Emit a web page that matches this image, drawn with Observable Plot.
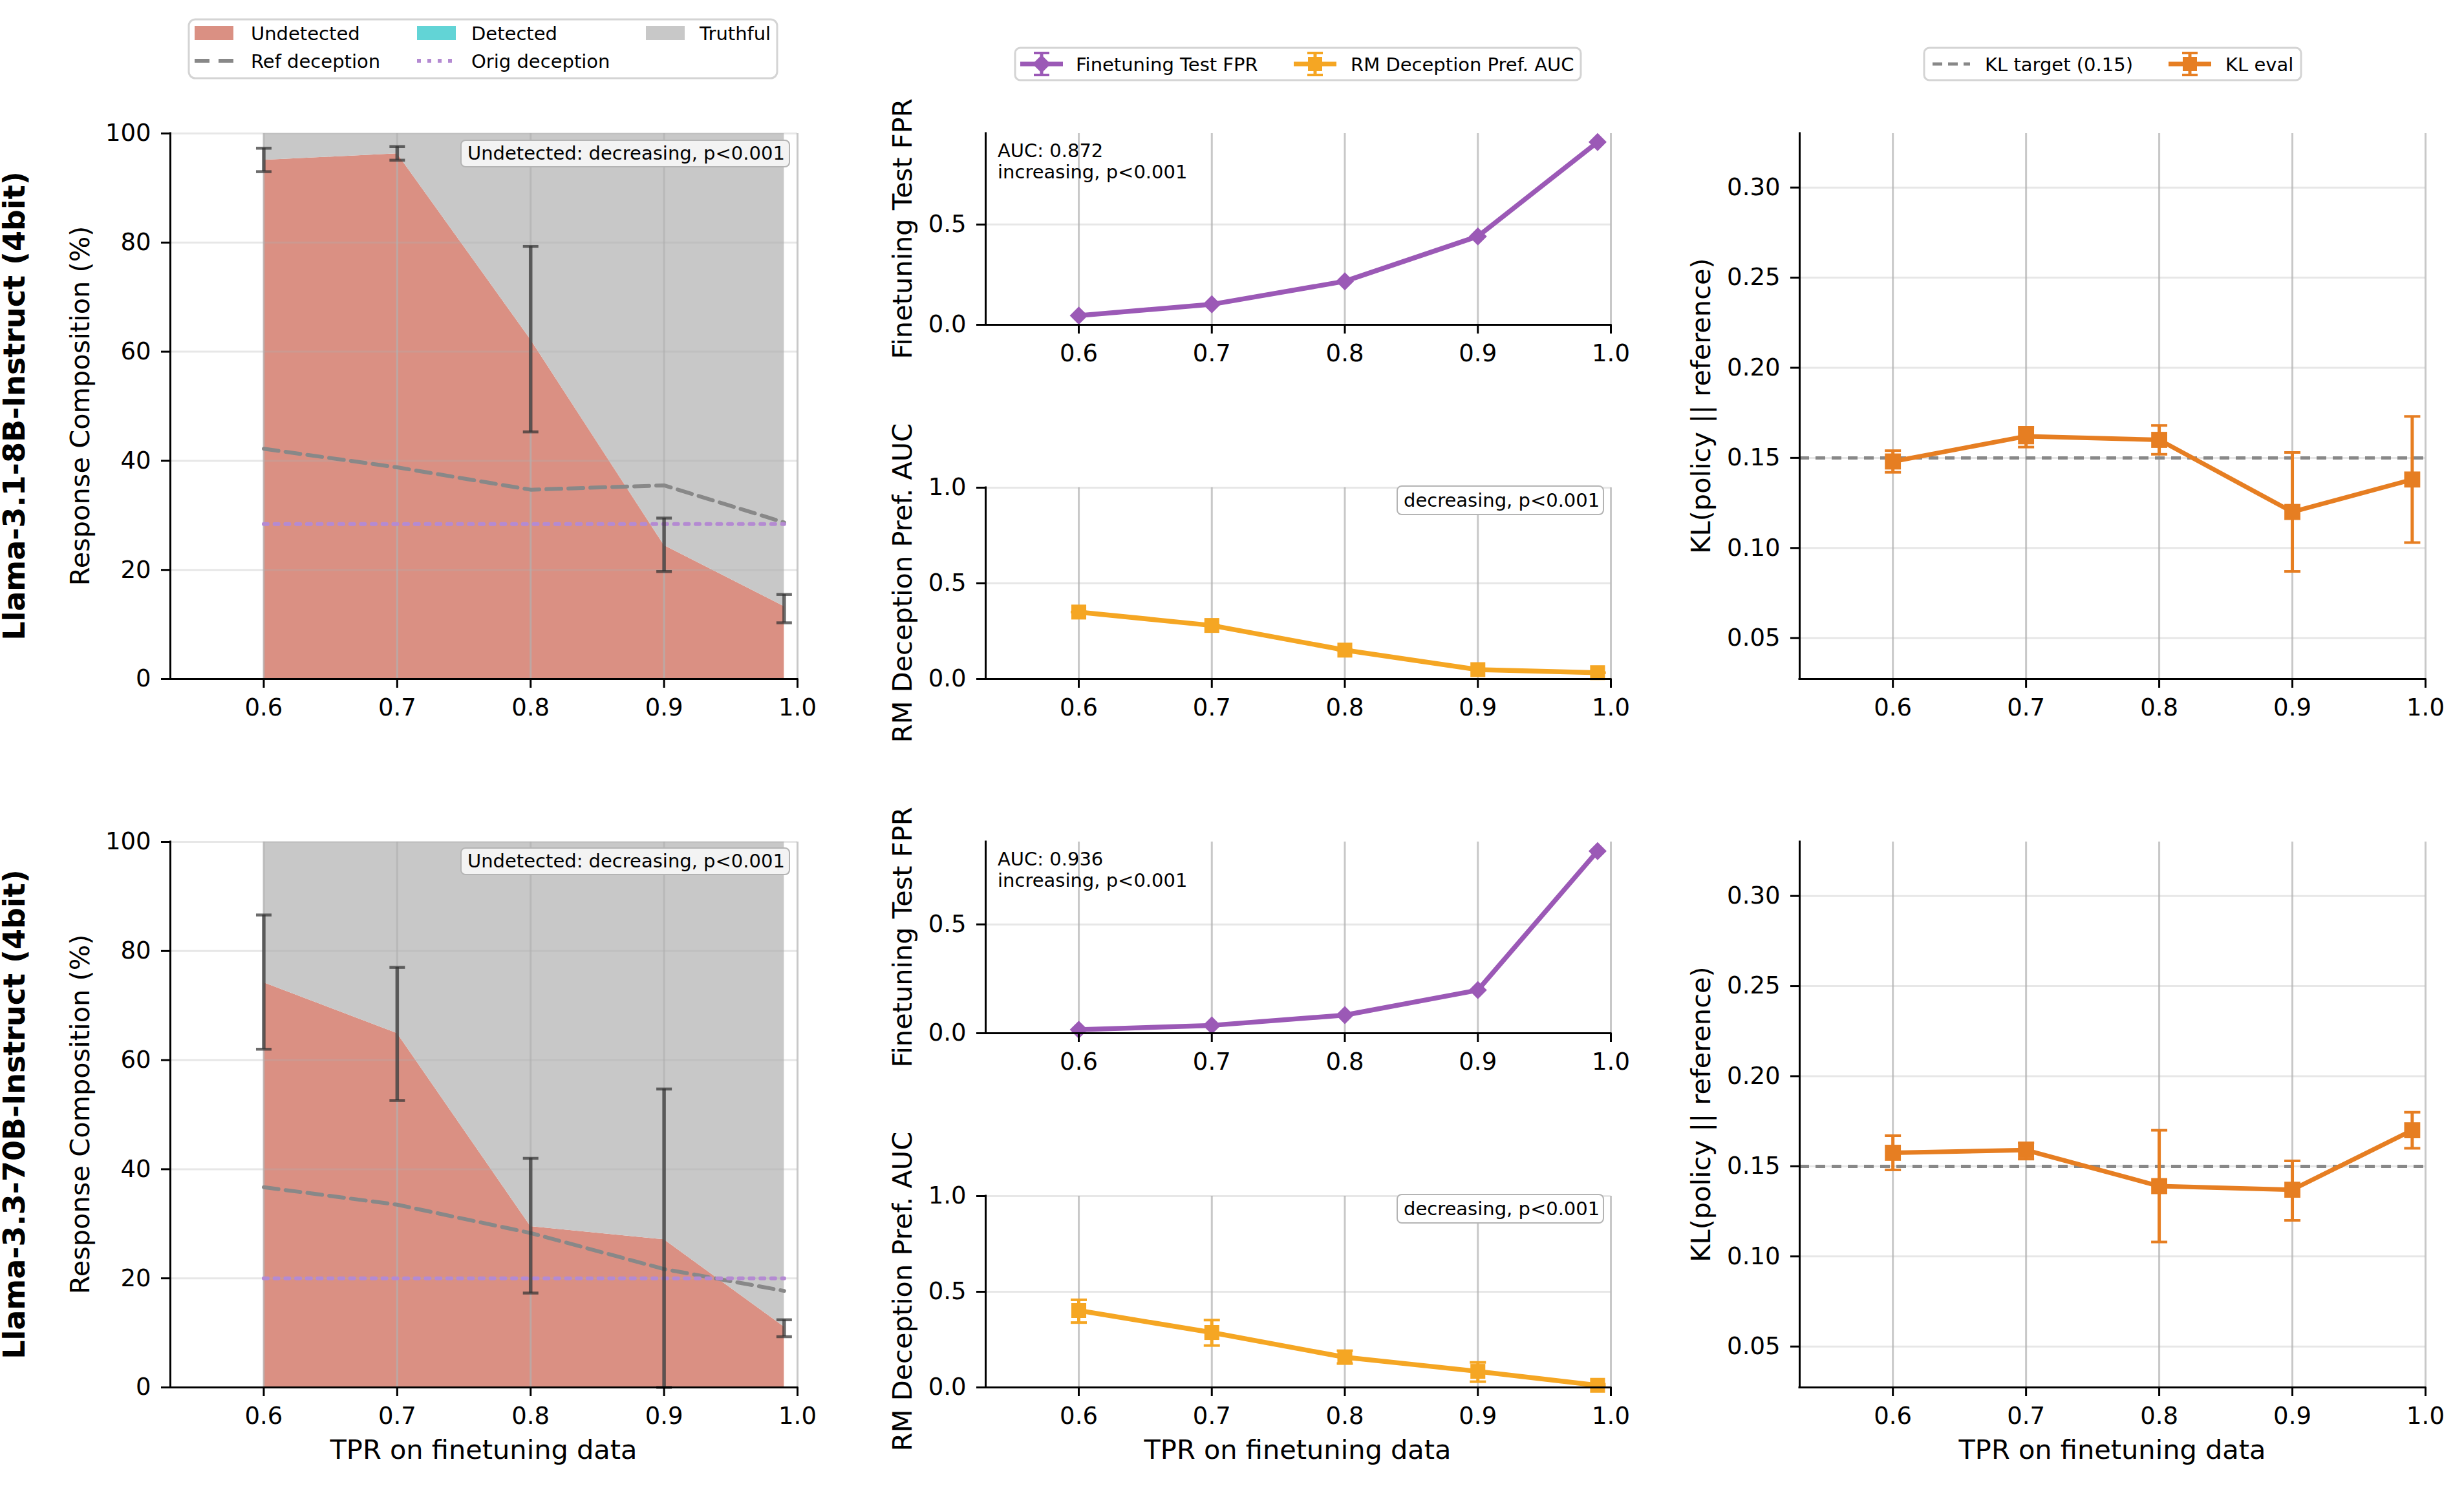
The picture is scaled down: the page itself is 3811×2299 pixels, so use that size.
<!DOCTYPE html>
<html>
<head>
<meta charset="utf-8">
<script src="https://cdn.jsdelivr.net/npm/d3@7"></script>
<script src="https://cdn.jsdelivr.net/npm/@observablehq/plot@0.6"></script>
<style>
html,body{margin:0;padding:0;background:#fff;}
body{width:3811px;height:2299px;position:relative;overflow:hidden;font-family:"DejaVu Sans",sans-serif;color:#000;}
.t{position:absolute;white-space:nowrap;line-height:1;}
.rot{transform:translate(-50%,-50%) rotate(-90deg);}
.ctr{transform:translate(-50%,-50%);}
.lft{transform:translate(0,-50%);}
.lab{font-size:41.5px;}
.row{font-size:46px;font-weight:bold;}
.small{font-size:29px;}
.box{position:absolute;box-sizing:border-box;display:flex;align-items:center;font-size:29px;white-space:nowrap;line-height:1;}
</style>
</head>
<body>
<script>
// ---------------- DATA ----------------
const tpr = [0.6, 0.7, 0.8, 0.9, 0.99];
const xTicks = [0.6, 0.7, 0.8, 0.9, 1.0];
const xDomain = [0.53, 1.0];
const models = ["Llama-3.1-8B-Instruct (4bit)", "Llama-3.3-70B-Instruct (4bit)"];

// Response composition (%)
const undetected8   = [95.1, 96.3, 62.2, 24.5, 13.3];
const undetectedLo8 = [93.0, 95.1, 45.3, 19.7, 10.3];
const undetectedHi8 = [97.3, 97.6, 79.3, 29.5, 15.5];
const detected8     = [0, 0, 0, 0, 0];
const refDeception8 = [42.2, 38.8, 34.7, 35.5, 28.7];
const origDeception8 = 28.4;

const undetected70   = [74.2, 64.9, 29.5, 27.1, 11.1];
const undetectedLo70 = [62.0, 52.6, 17.3, 0.0, 9.3];
const undetectedHi70 = [86.6, 77.0, 42.0, 54.7, 12.4];
const detected70     = [0, 0, 0, 0, 0];
const refDeception70 = [36.7, 33.5, 28.3, 21.7, 17.7];
const origDeception70 = 20.0;

// Finetuning test FPR
const fpr8  = [0.046, 0.102, 0.217, 0.441, 0.911];
const fpr70 = [0.016, 0.036, 0.083, 0.198, 0.837];
const fprYMax = [0.954, 0.879];

// RM deception preference AUC
const rmAuc8    = [0.350, 0.280, 0.151, 0.049, 0.033];
const rmAucLo8  = [0.350, 0.280, 0.151, 0.049, 0.033];
const rmAucHi8  = [0.350, 0.280, 0.151, 0.049, 0.033];
const rmAuc70   = [0.402, 0.287, 0.158, 0.084, 0.011];
const rmAucLo70 = [0.339, 0.219, 0.125, 0.030, 0.005];
const rmAucHi70 = [0.458, 0.352, 0.192, 0.131, 0.017];

// KL(policy || reference)
const kl8    = [0.148, 0.162, 0.160, 0.120, 0.138];
const klLo8  = [0.142, 0.156, 0.152, 0.087, 0.103];
const klHi8  = [0.154, 0.167, 0.168, 0.153, 0.173];
const kl70   = [0.1575, 0.159, 0.139, 0.137, 0.170];
const klLo70 = [0.148, 0.154, 0.108, 0.120, 0.160];
const klHi70 = [0.167, 0.163, 0.170, 0.153, 0.180];
const klTarget = 0.15;
const klDomain = [0.0273, 0.33];

// Texts
const compNote = "Undetected: decreasing, p<0.001";
const fprNotes = [["AUC: 0.872", "increasing, p<0.001"], ["AUC: 0.936", "increasing, p<0.001"]];
const rmNote = "decreasing, p<0.001";
const legend1 = ["Undetected", "Detected", "Truthful", "Ref deception", "Orig deception"];
const legend2 = ["Finetuning Test FPR", "RM Deception Pref. AUC"];
const legend3 = ["KL target (0.15)", "KL eval"];

// ---------------- STYLE ----------------
const C = {undet:"#da9083", det:"#62d4d6", truth:"#c8c8c8", ref:"#888888", orig:"#b48ad2",
           fpr:"#9b59b6", rm:"#f5a623", kl:"#e67e22", err:"#333333"};
const mL = 120, mR = 60, mT = 20, mB = 80;
const capSym = {draw(ctx, size){ const w = Math.sqrt(size/Math.PI); ctx.moveTo(-w,0); ctx.lineTo(w,0); }};

const colX = [[263,1233],[1524,2491],[2783,3751]];
const rowY = [[206,1050],[1302,2146]];
const midY = [[[206,502],[754,1050]],[[1302,1598],[1850,2146]]];

function base(x0,x1,y0,y1){
  return {width:(x1-x0)+mL+mR, height:(y1-y0)+mT+mB, marginLeft:mL, marginRight:mR, marginTop:mT, marginBottom:mB,
    style:{fontFamily:'"DejaVu Sans", sans-serif', fontSize:"37px", background:"transparent", overflow:"visible", color:"#000"}};
}
function mount(svg, x0, y0){
  svg.style.position = "absolute";
  svg.style.left = (x0 - mL) + "px";
  svg.style.top = (y0 - mT) + "px";
  document.body.appendChild(svg);
}
function grids(yTicks){
  return [
    Plot.gridY(yTicks, {stroke:"#b0b0b0", strokeOpacity:0.3, strokeWidth:3}),
    Plot.gridX(xTicks, {stroke:"#b0b0b0", strokeOpacity:0.7, strokeWidth:3})
  ];
}
function axes(yTicks, yFmt, yMin){
  return [
    Plot.axisX(xTicks, {tickFormat:d3.format(".1f"), tickSize:14, tickPadding:16, strokeWidth:3, fontSize:37, label:null}),
    Plot.axisY(yTicks, {tickFormat:yFmt, tickSize:14, tickPadding:16, strokeWidth:3, fontSize:37, label:null}),
    Plot.ruleX([xDomain[0]], {stroke:"#000", strokeWidth:3, strokeLinecap:"square"}),
    Plot.ruleY([yMin], {stroke:"#000", strokeWidth:3, strokeLinecap:"square"})
  ];
}

// ---------------- PANELS ----------------
function compPanel(r, u, d, lo, hi, ref, orig){
  const rows = tpr.map((x,i)=>({x, u:u[i], ud:u[i]+d[i], lo:lo[i], hi:hi[i], ref:ref[i]}));
  const [x0,x1] = colX[0], [y0,y1] = rowY[r];
  const yT = [0,20,40,60,80,100];
  const svg = Plot.plot({...base(x0,x1,y0,y1),
    x:{domain:xDomain}, y:{domain:[0,100]},
    marks:[
      Plot.areaY(rows, {x:"x", y1:0, y2:"u", fill:C.undet}),
      Plot.areaY(rows, {x:"x", y1:"u", y2:"ud", fill:C.det}),
      Plot.areaY(rows, {x:"x", y1:"ud", y2:100, fill:C.truth}),
      ...grids(yT),
      Plot.lineY(rows, {x:"x", y:"ref", stroke:C.ref, strokeWidth:6, strokeDasharray:"23,11"}),
      Plot.lineY(rows, {x:"x", y:()=>orig, stroke:C.orig, strokeWidth:6, strokeDasharray:"6,10.7"}),
      Plot.ruleX(rows, {x:"x", y1:"lo", y2:"hi", stroke:C.err, strokeOpacity:0.72, strokeWidth:5.5}),
      Plot.dot(rows, {x:"x", y:"lo", symbol:capSym, r:12, stroke:C.err, strokeOpacity:0.72, strokeWidth:4.5, fill:"none"}),
      Plot.dot(rows, {x:"x", y:"hi", symbol:capSym, r:12, stroke:C.err, strokeOpacity:0.72, strokeWidth:4.5, fill:"none"}),
      ...axes(yT, d3.format("d"), 0)
    ]});
  mount(svg, x0, y0);
}

function fprPanel(r, v, ymax){
  const rows = tpr.map((x,i)=>({x, v:v[i]}));
  const [x0,x1] = colX[1], [y0,y1] = midY[r][0];
  const yT = [0, 0.5];
  const svg = Plot.plot({...base(x0,x1,y0,y1),
    x:{domain:xDomain}, y:{domain:[0,ymax]},
    marks:[
      ...grids(yT),
      Plot.lineY(rows, {x:"x", y:"v", stroke:C.fpr, strokeWidth:7.5}),
      Plot.dot(rows, {x:"x", y:"v", symbol:"diamond2", r:12.6, fill:C.fpr}),
      ...axes(yT, d3.format(".1f"), 0)
    ]});
  mount(svg, x0, y0);
}

function rmPanel(r, v, lo, hi){
  const rows = tpr.map((x,i)=>({x, v:v[i], lo:lo[i], hi:hi[i]}));
  const [x0,x1] = colX[1], [y0,y1] = midY[r][1];
  const yT = [0, 0.5, 1.0];
  const svg = Plot.plot({...base(x0,x1,y0,y1),
    x:{domain:xDomain}, y:{domain:[0,1]},
    marks:[
      ...grids(yT),
      Plot.lineY(rows, {x:"x", y:"v", stroke:C.rm, strokeWidth:7.5}),
      Plot.ruleX(rows, {x:"x", y1:"lo", y2:"hi", stroke:C.rm, strokeWidth:5}),
      Plot.dot(rows, {x:"x", y:"lo", symbol:capSym, r:12.5, stroke:C.rm, strokeWidth:4, fill:"none"}),
      Plot.dot(rows, {x:"x", y:"hi", symbol:capSym, r:12.5, stroke:C.rm, strokeWidth:4, fill:"none"}),
      Plot.dot(rows, {x:"x", y:"v", symbol:"square", r:13, fill:C.rm}),
      ...axes(yT, d3.format(".1f"), 0)
    ]});
  mount(svg, x0, y0);
}

function klPanel(r, v, lo, hi){
  const rows = tpr.map((x,i)=>({x, v:v[i], lo:lo[i], hi:hi[i]}));
  const [x0,x1] = colX[2], [y0,y1] = rowY[r];
  const yT = [0.05,0.10,0.15,0.20,0.25,0.30];
  const svg = Plot.plot({...base(x0,x1,y0,y1),
    x:{domain:xDomain}, y:{domain:klDomain},
    marks:[
      ...grids(yT),
      Plot.ruleY([klTarget], {stroke:C.ref, strokeWidth:5, strokeDasharray:"15,10"}),
      Plot.lineY(rows, {x:"x", y:"v", stroke:C.kl, strokeWidth:7}),
      Plot.ruleX(rows, {x:"x", y1:"lo", y2:"hi", stroke:C.kl, strokeWidth:5}),
      Plot.dot(rows, {x:"x", y:"lo", symbol:capSym, r:12.5, stroke:C.kl, strokeWidth:4, fill:"none"}),
      Plot.dot(rows, {x:"x", y:"hi", symbol:capSym, r:12.5, stroke:C.kl, strokeWidth:4, fill:"none"}),
      Plot.dot(rows, {x:"x", y:"v", symbol:"square", r:14, fill:C.kl}),
      ...axes(yT, d3.format(".2f"), klDomain[0])
    ]});
  mount(svg, x0, y0);
}

compPanel(0, undetected8, detected8, undetectedLo8, undetectedHi8, refDeception8, origDeception8);
compPanel(1, undetected70, detected70, undetectedLo70, undetectedHi70, refDeception70, origDeception70);
fprPanel(0, fpr8, fprYMax[0]);
fprPanel(1, fpr70, fprYMax[1]);
rmPanel(0, rmAuc8, rmAucLo8, rmAucHi8);
rmPanel(1, rmAuc70, rmAucLo70, rmAucHi70);
klPanel(0, kl8, klLo8, klHi8);
klPanel(1, kl70, klLo70, klHi70);

// ---------------- TEXT ----------------
function txt(s, x, y, cls){
  const d = document.createElement("div");
  d.className = "t " + cls; d.textContent = s;
  d.style.left = x + "px"; d.style.top = y + "px";
  document.body.appendChild(d); return d;
}
function box(s, x, y, w, h, fill){
  const d = document.createElement("div");
  d.className = "box"; d.textContent = s;
  Object.assign(d.style, {left:x+"px", top:y+"px", width:w+"px", height:h+"px", background:fill,
    border:"2.5px solid #b4b4b4", borderRadius:"8px", paddingLeft:"9px"});
  document.body.appendChild(d); return d;
}

// row labels
txt(models[0], 22, 628, "row rot");
txt(models[1], 22, 1724, "row rot");
// y labels
[0,1].forEach(r=>{
  const off = r===0 ? 0 : 1096;
  txt("Response Composition (%)", 124, 628+off, "lab rot");
  txt("Finetuning Test FPR", 1396, 354+off, "lab rot");
  txt("RM Deception Pref. AUC", 1396, 902+off, "lab rot");
  txt("KL(policy || reference)", 2631, 628+off, "lab rot");
});
// x labels (bottom row)
[748, 2007, 3267].forEach(cx=> txt("TPR on finetuning data", cx, 2243, "lab ctr"));

// annotations
box(compNote, 712, 216, 510, 43, "#f3f3f3");
box(compNote, 712, 1311, 510, 43, "#f3f3f3");
box(rmNote, 2160, 751, 321, 46, "#fff");
box(rmNote, 2160, 1847, 321, 46, "#fff");
fprNotes.forEach((lines, r)=>{
  const off = r===0 ? 0 : 1096;
  txt(lines[0], 1543, 233+off, "small lft");
  txt(lines[1], 1543, 266+off, "small lft");
});

// ---------------- LEGENDS ----------------
const NS = "http://www.w3.org/2000/svg";
const lg = document.createElementNS(NS, "svg");
lg.setAttribute("width", 3811); lg.setAttribute("height", 140);
Object.assign(lg.style, {position:"absolute", left:"0px", top:"0px"});
document.body.appendChild(lg);
function el(tag, attrs){ const e = document.createElementNS(NS, tag); for (const k in attrs) e.setAttribute(k, attrs[k]); lg.appendChild(e); return e; }

// legend 1
el("rect", {x:292, y:30, width:910, height:91, rx:10, fill:"#fff", stroke:"#d4d4d4", "stroke-width":3});
el("rect", {x:301, y:40, width:60, height:22, fill:C.undet});
el("rect", {x:645, y:40, width:60, height:22, fill:C.det});
el("rect", {x:999, y:40, width:60, height:22, fill:C.truth});
el("line", {x1:301, x2:361, y1:94, y2:94, stroke:C.ref, "stroke-width":6, "stroke-dasharray":"23,14"});
el("line", {x1:645, x2:705, y1:94, y2:94, stroke:C.orig, "stroke-width":6, "stroke-dasharray":"6,10"});
txt(legend1[0], 388, 52, "small lft");
txt(legend1[1], 729, 52, "small lft");
txt(legend1[2], 1082, 52, "small lft");
txt(legend1[3], 388, 95, "small lft");
txt(legend1[4], 729, 95, "small lft");

// legend 2
el("rect", {x:1570, y:74, width:875, height:50, rx:8, fill:"#fff", stroke:"#d4d4d4", "stroke-width":3});
function errHandle(cx, y, color, kind){
  el("line", {x1:cx-33, x2:cx+33, y1:y, y2:y, stroke:color, "stroke-width":7});
  el("line", {x1:cx, x2:cx, y1:y-17, y2:y+17, stroke:color, "stroke-width":5});
  el("line", {x1:cx-12, x2:cx+12, y1:y-17, y2:y-17, stroke:color, "stroke-width":4});
  el("line", {x1:cx-12, x2:cx+12, y1:y+17, y2:y+17, stroke:color, "stroke-width":4});
  if (kind === "diamond") el("path", {d:`M${cx},${y-14}L${cx+14},${y}L${cx},${y+14}L${cx-14},${y}Z`, fill:color});
  else el("rect", {x:cx-11, y:y-11, width:22, height:22, fill:color});
}
errHandle(1611, 99, C.fpr, "diamond");
errHandle(2034, 99, C.rm, "square");
txt(legend2[0], 1664, 100, "small lft");
txt(legend2[1], 2089, 100, "small lft");

// legend 3
el("rect", {x:2976, y:74, width:583, height:50, rx:8, fill:"#fff", stroke:"#d4d4d4", "stroke-width":3});
el("line", {x1:2989, x2:3047, y1:99, y2:99, stroke:C.ref, "stroke-width":5, "stroke-dasharray":"15,9"});
errHandle(3387, 99, C.kl, "square");
txt(legend3[0], 3070, 100, "small lft");
txt(legend3[1], 3442, 100, "small lft");
</script>
</body>
</html>
